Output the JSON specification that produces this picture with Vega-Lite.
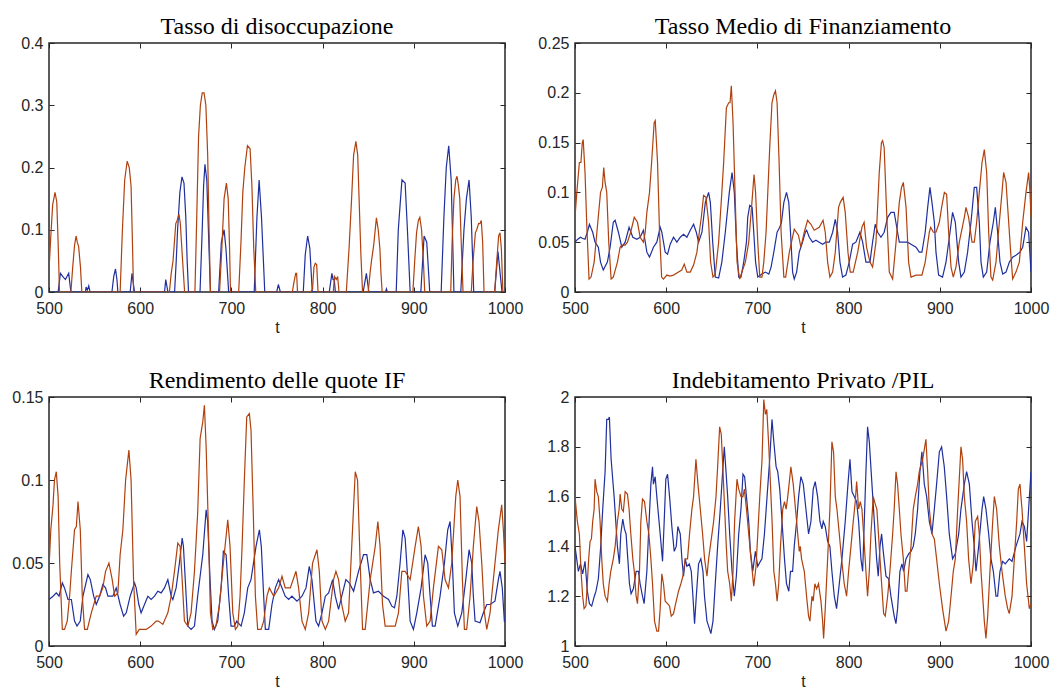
{
"$schema":"https://vega.github.io/schema/vega-lite/v6.json",
"padding":{"left":11,"top":14,"right":0,"bottom":0},
"background":"white",
"columns":2,
"spacing":{"row":32,"column":13},
"config":{
 "view":{"stroke":"#262626","strokeWidth":1.5},
 "axis":{"domain":false,"grid":false,"ticks":true,"tickSize":-5,"tickColor":"#262626","tickWidth":1,"labelFont":"Liberation Sans","labelFontSize":16,"labelColor":"#262626","labelFlush":false,"labelOverlap":false,"labelBound":false,"titleFont":"Liberation Sans","titleFontSize":16,"titleFontWeight":"normal","titleColor":"#262626","titlePadding":3},
 "axisX":{"labelPadding":13,"format":"d"},
 "axisY":{"labelPadding":11},
 "title":{"font":"Liberation Serif","fontSize":24,"fontWeight":"normal","color":"#000000","offset":-4}
},
"datasets":{
"tl":[
{"s":"A","t":500,"v":0},{"s":"A","t":510,"v":0},{"s":"A","t":512.5,"v":0.03},{"s":"A","t":515,"v":0.025},{"s":"A","t":518,"v":0.02},{"s":"A","t":521.6,"v":0.03},{"s":"A","t":524,"v":0},{"s":"A","t":540,"v":0},{"s":"A","t":540.6,"v":0.008},{"s":"A","t":542,"v":0.003},{"s":"A","t":543.6,"v":0.01},{"s":"A","t":545,"v":0},{"s":"A","t":569,"v":0},{"s":"A","t":571,"v":0.025},{"s":"A","t":572.9,"v":0.037},{"s":"A","t":574.5,"v":0.02},{"s":"A","t":575.5,"v":0},{"s":"A","t":589,"v":0},{"s":"A","t":591,"v":0.03},{"s":"A","t":593.8,"v":0},{"s":"A","t":626.7,"v":0},{"s":"A","t":628,"v":0.02},{"s":"A","t":630.4,"v":0},{"s":"A","t":637.7,"v":0},{"s":"A","t":639.5,"v":0.05},{"s":"A","t":641,"v":0.1},{"s":"A","t":643.5,"v":0.16},{"s":"A","t":645.8,"v":0.185},{"s":"A","t":648,"v":0.175},{"s":"A","t":650,"v":0.12},{"s":"A","t":651.5,"v":0.05},{"s":"A","t":653,"v":0},{"s":"A","t":665.6,"v":0},{"s":"A","t":668,"v":0.1},{"s":"A","t":669.5,"v":0.17},{"s":"A","t":671,"v":0.205},{"s":"A","t":673,"v":0.18},{"s":"A","t":675,"v":0.09},{"s":"A","t":677,"v":0},{"s":"A","t":686,"v":0},{"s":"A","t":689,"v":0.08},{"s":"A","t":692,"v":0.1},{"s":"A","t":694,"v":0.07},{"s":"A","t":697,"v":0},{"s":"A","t":725,"v":0},{"s":"A","t":728,"v":0.12},{"s":"A","t":730.4,"v":0.18},{"s":"A","t":733,"v":0.12},{"s":"A","t":736.6,"v":0},{"s":"A","t":749.6,"v":0},{"s":"A","t":751.5,"v":0.012},{"s":"A","t":753.7,"v":0},{"s":"A","t":778.8,"v":0},{"s":"A","t":781,"v":0.06},{"s":"A","t":783.6,"v":0.09},{"s":"A","t":786,"v":0.07},{"s":"A","t":788.7,"v":0},{"s":"A","t":807.3,"v":0},{"s":"A","t":810.2,"v":0.03},{"s":"A","t":811.5,"v":0.02},{"s":"A","t":812.8,"v":0.02},{"s":"A","t":814,"v":0},{"s":"A","t":844.5,"v":0},{"s":"A","t":848,"v":0.03},{"s":"A","t":850.7,"v":0},{"s":"A","t":869,"v":0},{"s":"A","t":870,"v":0.005},{"s":"A","t":871,"v":0},{"s":"A","t":880.7,"v":0},{"s":"A","t":883,"v":0.1},{"s":"A","t":887,"v":0.18},{"s":"A","t":890.5,"v":0.175},{"s":"A","t":893,"v":0.1},{"s":"A","t":896,"v":0},{"s":"A","t":907.7,"v":0},{"s":"A","t":911.3,"v":0.09},{"s":"A","t":914.2,"v":0.08},{"s":"A","t":917.5,"v":0},{"s":"A","t":930,"v":0},{"s":"A","t":933,"v":0.12},{"s":"A","t":935.6,"v":0.2},{"s":"A","t":938.3,"v":0.235},{"s":"A","t":941,"v":0.18},{"s":"A","t":944,"v":0},{"s":"A","t":951.5,"v":0},{"s":"A","t":955,"v":0.1},{"s":"A","t":957.7,"v":0.15},{"s":"A","t":960.6,"v":0.18},{"s":"A","t":963,"v":0.12},{"s":"A","t":965.7,"v":0},{"s":"A","t":988.7,"v":0},{"s":"A","t":992.3,"v":0.065},{"s":"A","t":996.7,"v":0},{"s":"A","t":1000,"v":0},
{"s":"B","t":500,"v":0.035},{"s":"B","t":502,"v":0.09},{"s":"B","t":504,"v":0.14},{"s":"B","t":506.6,"v":0.16},{"s":"B","t":508.5,"v":0.145},{"s":"B","t":510,"v":0.08},{"s":"B","t":511.5,"v":0},{"s":"B","t":524,"v":0},{"s":"B","t":526,"v":0.04},{"s":"B","t":528,"v":0.075},{"s":"B","t":529.7,"v":0.09},{"s":"B","t":531,"v":0.08},{"s":"B","t":532.5,"v":0.073},{"s":"B","t":534.5,"v":0.04},{"s":"B","t":536,"v":0},{"s":"B","t":578,"v":0},{"s":"B","t":580.5,"v":0.1},{"s":"B","t":583,"v":0.18},{"s":"B","t":585.7,"v":0.21},{"s":"B","t":588,"v":0.2},{"s":"B","t":590,"v":0.17},{"s":"B","t":591.5,"v":0.08},{"s":"B","t":592.7,"v":0},{"s":"B","t":632,"v":0},{"s":"B","t":634,"v":0.03},{"s":"B","t":636,"v":0.05},{"s":"B","t":639,"v":0.11},{"s":"B","t":640.5,"v":0.115},{"s":"B","t":642.5,"v":0.125},{"s":"B","t":644,"v":0.11},{"s":"B","t":646.5,"v":0.05},{"s":"B","t":648.7,"v":0},{"s":"B","t":660,"v":0},{"s":"B","t":662,"v":0.12},{"s":"B","t":664,"v":0.25},{"s":"B","t":666,"v":0.3},{"s":"B","t":668,"v":0.32},{"s":"B","t":670,"v":0.32},{"s":"B","t":672,"v":0.3},{"s":"B","t":674,"v":0.22},{"s":"B","t":675.5,"v":0.1},{"s":"B","t":677,"v":0},{"s":"B","t":687,"v":0},{"s":"B","t":689.5,"v":0.07},{"s":"B","t":692,"v":0.15},{"s":"B","t":694.5,"v":0.175},{"s":"B","t":696.5,"v":0.15},{"s":"B","t":698,"v":0.07},{"s":"B","t":699,"v":0},{"s":"B","t":708,"v":0},{"s":"B","t":710.5,"v":0.08},{"s":"B","t":712.5,"v":0.16},{"s":"B","t":714.7,"v":0.2},{"s":"B","t":717.6,"v":0.235},{"s":"B","t":720.5,"v":0.23},{"s":"B","t":722.5,"v":0.17},{"s":"B","t":724.5,"v":0.07},{"s":"B","t":726.7,"v":0},{"s":"B","t":766.8,"v":0},{"s":"B","t":768.5,"v":0.015},{"s":"B","t":770.5,"v":0.03},{"s":"B","t":771.5,"v":0.03},{"s":"B","t":772.5,"v":0},{"s":"B","t":787,"v":0},{"s":"B","t":789,"v":0.005},{"s":"B","t":790.5,"v":0.04},{"s":"B","t":792,"v":0.046},{"s":"B","t":793.5,"v":0.044},{"s":"B","t":795,"v":0},{"s":"B","t":811.7,"v":0},{"s":"B","t":813,"v":0.025},{"s":"B","t":815,"v":0.02},{"s":"B","t":816.5,"v":0.025},{"s":"B","t":818,"v":0},{"s":"B","t":826,"v":0},{"s":"B","t":829,"v":0.07},{"s":"B","t":831.8,"v":0.15},{"s":"B","t":834,"v":0.22},{"s":"B","t":836.5,"v":0.242},{"s":"B","t":838.5,"v":0.22},{"s":"B","t":840,"v":0.15},{"s":"B","t":842,"v":0.06},{"s":"B","t":843.8,"v":0},{"s":"B","t":850,"v":0},{"s":"B","t":852,"v":0.03},{"s":"B","t":853.6,"v":0.05},{"s":"B","t":856,"v":0.075},{"s":"B","t":859,"v":0.119},{"s":"B","t":861,"v":0.1},{"s":"B","t":862.8,"v":0.07},{"s":"B","t":864,"v":0.03},{"s":"B","t":865.3,"v":0},{"s":"B","t":899,"v":0},{"s":"B","t":901,"v":0.05},{"s":"B","t":903,"v":0.095},{"s":"B","t":905,"v":0.115},{"s":"B","t":906.6,"v":0.12},{"s":"B","t":908.5,"v":0.1},{"s":"B","t":910.5,"v":0.05},{"s":"B","t":912,"v":0},{"s":"B","t":940.5,"v":0},{"s":"B","t":942,"v":0.08},{"s":"B","t":944,"v":0.15},{"s":"B","t":946,"v":0.18},{"s":"B","t":947.4,"v":0.186},{"s":"B","t":949,"v":0.17},{"s":"B","t":950.4,"v":0.15},{"s":"B","t":952,"v":0.08},{"s":"B","t":954,"v":0},{"s":"B","t":963,"v":0},{"s":"B","t":965,"v":0.05},{"s":"B","t":967.5,"v":0.095},{"s":"B","t":969,"v":0.1},{"s":"B","t":971,"v":0.11},{"s":"B","t":972.5,"v":0.11},{"s":"B","t":974,"v":0.115},{"s":"B","t":975.5,"v":0.08},{"s":"B","t":977,"v":0},{"s":"B","t":988.7,"v":0},{"s":"B","t":991,"v":0.05},{"s":"B","t":993,"v":0.09},{"s":"B","t":994.5,"v":0.095},{"s":"B","t":996,"v":0.07},{"s":"B","t":997.7,"v":0},{"s":"B","t":1000,"v":0}
],
"tr":[
{"s":"A","t":500,"v":0.05},{"s":"A","t":503,"v":0.053},{"s":"A","t":506,"v":0.055},{"s":"A","t":508,"v":0.054},{"s":"A","t":511,"v":0.053},{"s":"A","t":513.5,"v":0.06},{"s":"A","t":515.8,"v":0.068},{"s":"A","t":519.4,"v":0.06},{"s":"A","t":522,"v":0.05},{"s":"A","t":525.6,"v":0.045},{"s":"A","t":528,"v":0.03},{"s":"A","t":531,"v":0.022},{"s":"A","t":535.5,"v":0.03},{"s":"A","t":538.5,"v":0.045},{"s":"A","t":542,"v":0.07},{"s":"A","t":544,"v":0.072},{"s":"A","t":547.6,"v":0.06},{"s":"A","t":551.3,"v":0.045},{"s":"A","t":555,"v":0.05},{"s":"A","t":559.3,"v":0.065},{"s":"A","t":563.4,"v":0.055},{"s":"A","t":567.8,"v":0.053},{"s":"A","t":571.4,"v":0.055},{"s":"A","t":575,"v":0.062},{"s":"A","t":578.8,"v":0.04},{"s":"A","t":581.7,"v":0.035},{"s":"A","t":586,"v":0.045},{"s":"A","t":589.7,"v":0.05},{"s":"A","t":593.4,"v":0.065},{"s":"A","t":595.2,"v":0.06},{"s":"A","t":598.9,"v":0.04},{"s":"A","t":601.5,"v":0.038},{"s":"A","t":604.4,"v":0.048},{"s":"A","t":608,"v":0.055},{"s":"A","t":611.7,"v":0.05},{"s":"A","t":615.4,"v":0.055},{"s":"A","t":619,"v":0.058},{"s":"A","t":622.7,"v":0.055},{"s":"A","t":626.4,"v":0.062},{"s":"A","t":630,"v":0.068},{"s":"A","t":633,"v":0.06},{"s":"A","t":635.5,"v":0.05},{"s":"A","t":639.2,"v":0.06},{"s":"A","t":642.9,"v":0.09},{"s":"A","t":646.5,"v":0.1},{"s":"A","t":648.4,"v":0.09},{"s":"A","t":651,"v":0.05},{"s":"A","t":653.8,"v":0.015},{"s":"A","t":657.5,"v":0.014},{"s":"A","t":661,"v":0.03},{"s":"A","t":664.8,"v":0.06},{"s":"A","t":669.2,"v":0.1},{"s":"A","t":672.2,"v":0.12},{"s":"A","t":674.7,"v":0.1},{"s":"A","t":677,"v":0.05},{"s":"A","t":679.5,"v":0.015},{"s":"A","t":682,"v":0.015},{"s":"A","t":685,"v":0.03},{"s":"A","t":688,"v":0.05},{"s":"A","t":689.4,"v":0.075},{"s":"A","t":691.6,"v":0.087},{"s":"A","t":694.2,"v":0.085},{"s":"A","t":696,"v":0.06},{"s":"A","t":698,"v":0.03},{"s":"A","t":700.4,"v":0.015},{"s":"A","t":705,"v":0.018},{"s":"A","t":708.8,"v":0.02},{"s":"A","t":712.5,"v":0.018},{"s":"A","t":715,"v":0.025},{"s":"A","t":718,"v":0.04},{"s":"A","t":721.6,"v":0.06},{"s":"A","t":724.5,"v":0.065},{"s":"A","t":726.4,"v":0.07},{"s":"A","t":729,"v":0.09},{"s":"A","t":731.9,"v":0.1},{"s":"A","t":734.4,"v":0.09},{"s":"A","t":736.3,"v":0.06},{"s":"A","t":738.6,"v":0.02},{"s":"A","t":740.4,"v":0.013},{"s":"A","t":743,"v":0.02},{"s":"A","t":745.9,"v":0.04},{"s":"A","t":749.5,"v":0.05},{"s":"A","t":752.5,"v":0.06},{"s":"A","t":754,"v":0.062},{"s":"A","t":756.9,"v":0.055},{"s":"A","t":760.5,"v":0.05},{"s":"A","t":764.2,"v":0.052},{"s":"A","t":767.8,"v":0.05},{"s":"A","t":771.5,"v":0.048},{"s":"A","t":775,"v":0.05},{"s":"A","t":778.8,"v":0.05},{"s":"A","t":782.5,"v":0.06},{"s":"A","t":785.4,"v":0.073},{"s":"A","t":788,"v":0.06},{"s":"A","t":790.5,"v":0.03},{"s":"A","t":793.4,"v":0.015},{"s":"A","t":797,"v":0.017},{"s":"A","t":800.7,"v":0.03},{"s":"A","t":804.4,"v":0.048},{"s":"A","t":808,"v":0.05},{"s":"A","t":812.4,"v":0.06},{"s":"A","t":815.4,"v":0.05},{"s":"A","t":819,"v":0.03},{"s":"A","t":823.4,"v":0.03},{"s":"A","t":826.3,"v":0.05},{"s":"A","t":829.2,"v":0.068},{"s":"A","t":831.8,"v":0.06},{"s":"A","t":835.5,"v":0.055},{"s":"A","t":839,"v":0.06},{"s":"A","t":842.8,"v":0.075},{"s":"A","t":846.4,"v":0.08},{"s":"A","t":850,"v":0.08},{"s":"A","t":853.7,"v":0.06},{"s":"A","t":855.6,"v":0.05},{"s":"A","t":861,"v":0.05},{"s":"A","t":864.7,"v":0.05},{"s":"A","t":868.4,"v":0.048},{"s":"A","t":873.9,"v":0.045},{"s":"A","t":877.5,"v":0.04},{"s":"A","t":880.4,"v":0.04},{"s":"A","t":884,"v":0.06},{"s":"A","t":886.7,"v":0.085},{"s":"A","t":889.2,"v":0.105},{"s":"A","t":891.4,"v":0.09},{"s":"A","t":894,"v":0.07},{"s":"A","t":895.8,"v":0.04},{"s":"A","t":898.7,"v":0.017},{"s":"A","t":903,"v":0.015},{"s":"A","t":906.8,"v":0.03},{"s":"A","t":911.2,"v":0.06},{"s":"A","t":914,"v":0.08},{"s":"A","t":917,"v":0.07},{"s":"A","t":920.7,"v":0.03},{"s":"A","t":923.2,"v":0.015},{"s":"A","t":926.9,"v":0.02},{"s":"A","t":930.5,"v":0.04},{"s":"A","t":934.2,"v":0.07},{"s":"A","t":937.8,"v":0.105},{"s":"A","t":940.4,"v":0.105},{"s":"A","t":943.3,"v":0.07},{"s":"A","t":945.2,"v":0.03},{"s":"A","t":947.7,"v":0.015},{"s":"A","t":951.4,"v":0.02},{"s":"A","t":955,"v":0.05},{"s":"A","t":958.7,"v":0.07},{"s":"A","t":960.9,"v":0.085},{"s":"A","t":963.4,"v":0.06},{"s":"A","t":966,"v":0.03},{"s":"A","t":969,"v":0.018},{"s":"A","t":972.6,"v":0.02},{"s":"A","t":976.3,"v":0.03},{"s":"A","t":979.9,"v":0.035},{"s":"A","t":983.5,"v":0.037},{"s":"A","t":987.9,"v":0.04},{"s":"A","t":990.9,"v":0.045},{"s":"A","t":994.5,"v":0.065},{"s":"A","t":997.4,"v":0.06},{"s":"A","t":1000,"v":0.02},
{"s":"B","t":500,"v":0.075},{"s":"B","t":502,"v":0.1},{"s":"B","t":504.8,"v":0.13},{"s":"B","t":506.5,"v":0.13},{"s":"B","t":508,"v":0.15},{"s":"B","t":509,"v":0.153},{"s":"B","t":511,"v":0.12},{"s":"B","t":512.8,"v":0.07},{"s":"B","t":515.4,"v":0.013},{"s":"B","t":517.6,"v":0.015},{"s":"B","t":521,"v":0.03},{"s":"B","t":523,"v":0.05},{"s":"B","t":525,"v":0.07},{"s":"B","t":528,"v":0.1},{"s":"B","t":530,"v":0.105},{"s":"B","t":531.5,"v":0.125},{"s":"B","t":533,"v":0.11},{"s":"B","t":534.8,"v":0.1},{"s":"B","t":537,"v":0.05},{"s":"B","t":539.6,"v":0.013},{"s":"B","t":542,"v":0.015},{"s":"B","t":546.5,"v":0.03},{"s":"B","t":549.5,"v":0.045},{"s":"B","t":552,"v":0.047},{"s":"B","t":555,"v":0.047},{"s":"B","t":557.5,"v":0.05},{"s":"B","t":561,"v":0.06},{"s":"B","t":565,"v":0.075},{"s":"B","t":568.5,"v":0.07},{"s":"B","t":571.4,"v":0.055},{"s":"B","t":575,"v":0.05},{"s":"B","t":577,"v":0.06},{"s":"B","t":578.8,"v":0.08},{"s":"B","t":581.7,"v":0.1},{"s":"B","t":584,"v":0.13},{"s":"B","t":586.8,"v":0.17},{"s":"B","t":588,"v":0.172},{"s":"B","t":590.5,"v":0.13},{"s":"B","t":592.7,"v":0.06},{"s":"B","t":595,"v":0.015},{"s":"B","t":597,"v":0.013},{"s":"B","t":600.7,"v":0.017},{"s":"B","t":604,"v":0.016},{"s":"B","t":608,"v":0.017},{"s":"B","t":613.5,"v":0.02},{"s":"B","t":617,"v":0.022},{"s":"B","t":619.8,"v":0.028},{"s":"B","t":622.7,"v":0.02},{"s":"B","t":626.4,"v":0.02},{"s":"B","t":630,"v":0.027},{"s":"B","t":633.7,"v":0.04},{"s":"B","t":636.3,"v":0.06},{"s":"B","t":638.5,"v":0.075},{"s":"B","t":641,"v":0.097},{"s":"B","t":643.6,"v":0.095},{"s":"B","t":646.5,"v":0.07},{"s":"B","t":648.7,"v":0.03},{"s":"B","t":651.3,"v":0.015},{"s":"B","t":653.8,"v":0.018},{"s":"B","t":657.5,"v":0.05},{"s":"B","t":661,"v":0.1},{"s":"B","t":663,"v":0.13},{"s":"B","t":666,"v":0.185},{"s":"B","t":668.5,"v":0.19},{"s":"B","t":670,"v":0.19},{"s":"B","t":671.4,"v":0.207},{"s":"B","t":673.3,"v":0.17},{"s":"B","t":675.8,"v":0.09},{"s":"B","t":677.7,"v":0.03},{"s":"B","t":680.6,"v":0.013},{"s":"B","t":683,"v":0.02},{"s":"B","t":686.8,"v":0.03},{"s":"B","t":690.5,"v":0.05},{"s":"B","t":694,"v":0.09},{"s":"B","t":696.3,"v":0.118},{"s":"B","t":698,"v":0.1},{"s":"B","t":700.4,"v":0.05},{"s":"B","t":702.6,"v":0.015},{"s":"B","t":705,"v":0.015},{"s":"B","t":707,"v":0.03},{"s":"B","t":709.5,"v":0.06},{"s":"B","t":711.4,"v":0.1},{"s":"B","t":713.5,"v":0.145},{"s":"B","t":716,"v":0.19},{"s":"B","t":718,"v":0.198},{"s":"B","t":719.8,"v":0.202},{"s":"B","t":721.6,"v":0.19},{"s":"B","t":723.8,"v":0.13},{"s":"B","t":726,"v":0.06},{"s":"B","t":729,"v":0.015},{"s":"B","t":731,"v":0.015},{"s":"B","t":735,"v":0.04},{"s":"B","t":740.4,"v":0.063},{"s":"B","t":745,"v":0.057},{"s":"B","t":747.7,"v":0.045},{"s":"B","t":751.4,"v":0.06},{"s":"B","t":755,"v":0.072},{"s":"B","t":758.7,"v":0.068},{"s":"B","t":762.3,"v":0.062},{"s":"B","t":767.8,"v":0.065},{"s":"B","t":772,"v":0.072},{"s":"B","t":774.4,"v":0.06},{"s":"B","t":777,"v":0.03},{"s":"B","t":779.5,"v":0.015},{"s":"B","t":782.5,"v":0.02},{"s":"B","t":785.4,"v":0.04},{"s":"B","t":789,"v":0.085},{"s":"B","t":790.9,"v":0.09},{"s":"B","t":794,"v":0.095},{"s":"B","t":796.3,"v":0.08},{"s":"B","t":799.3,"v":0.04},{"s":"B","t":801.8,"v":0.02},{"s":"B","t":805,"v":0.02},{"s":"B","t":810,"v":0.04},{"s":"B","t":814.6,"v":0.065},{"s":"B","t":817,"v":0.07},{"s":"B","t":819.7,"v":0.045},{"s":"B","t":823.4,"v":0.03},{"s":"B","t":826.3,"v":0.025},{"s":"B","t":830,"v":0.05},{"s":"B","t":833.6,"v":0.12},{"s":"B","t":836,"v":0.15},{"s":"B","t":837.3,"v":0.152},{"s":"B","t":839,"v":0.145},{"s":"B","t":841.7,"v":0.08},{"s":"B","t":844.6,"v":0.02},{"s":"B","t":848.3,"v":0.013},{"s":"B","t":852,"v":0.05},{"s":"B","t":855.6,"v":0.09},{"s":"B","t":858,"v":0.105},{"s":"B","t":860,"v":0.11},{"s":"B","t":863,"v":0.085},{"s":"B","t":865.8,"v":0.03},{"s":"B","t":868.4,"v":0.015},{"s":"B","t":873.9,"v":0.017},{"s":"B","t":880.4,"v":0.017},{"s":"B","t":884,"v":0.03},{"s":"B","t":888.5,"v":0.06},{"s":"B","t":890,"v":0.065},{"s":"B","t":892.9,"v":0.06},{"s":"B","t":895.8,"v":0.06},{"s":"B","t":899.5,"v":0.07},{"s":"B","t":902,"v":0.085},{"s":"B","t":905,"v":0.1},{"s":"B","t":907.5,"v":0.098},{"s":"B","t":909.7,"v":0.06},{"s":"B","t":912.3,"v":0.025},{"s":"B","t":914.8,"v":0.015},{"s":"B","t":917.7,"v":0.025},{"s":"B","t":921.4,"v":0.05},{"s":"B","t":926.9,"v":0.075},{"s":"B","t":928.7,"v":0.085},{"s":"B","t":931.6,"v":0.075},{"s":"B","t":935.3,"v":0.05},{"s":"B","t":937.8,"v":0.05},{"s":"B","t":940.4,"v":0.07},{"s":"B","t":943.3,"v":0.1},{"s":"B","t":946.3,"v":0.13},{"s":"B","t":948.8,"v":0.143},{"s":"B","t":951.4,"v":0.12},{"s":"B","t":953.6,"v":0.06},{"s":"B","t":956.1,"v":0.015},{"s":"B","t":958,"v":0.012},{"s":"B","t":961.6,"v":0.03},{"s":"B","t":965.3,"v":0.07},{"s":"B","t":968.2,"v":0.1},{"s":"B","t":970,"v":0.12},{"s":"B","t":972.6,"v":0.11},{"s":"B","t":974.8,"v":0.08},{"s":"B","t":977.7,"v":0.04},{"s":"B","t":979.9,"v":0.013},{"s":"B","t":983.5,"v":0.02},{"s":"B","t":987.2,"v":0.03},{"s":"B","t":990.9,"v":0.07},{"s":"B","t":994.5,"v":0.1},{"s":"B","t":997.4,"v":0.12},{"s":"B","t":998.9,"v":0.1},{"s":"B","t":1000,"v":0.075}
],
"bl":[
{"s":"A","t":500,"v":0.028},{"s":"A","t":504.4,"v":0.03},{"s":"A","t":508,"v":0.032},{"s":"A","t":511,"v":0.03},{"s":"A","t":514.6,"v":0.038},{"s":"A","t":517,"v":0.035},{"s":"A","t":520.8,"v":0.028},{"s":"A","t":524.5,"v":0.028},{"s":"A","t":528,"v":0.015},{"s":"A","t":530.7,"v":0.012},{"s":"A","t":534.3,"v":0.015},{"s":"A","t":537.2,"v":0.03},{"s":"A","t":542.7,"v":0.043},{"s":"A","t":545.3,"v":0.04},{"s":"A","t":549,"v":0.03},{"s":"A","t":551.8,"v":0.025},{"s":"A","t":555.5,"v":0.03},{"s":"A","t":559,"v":0.037},{"s":"A","t":562,"v":0.035},{"s":"A","t":564.6,"v":0.03},{"s":"A","t":570,"v":0.03},{"s":"A","t":573.7,"v":0.035},{"s":"A","t":578,"v":0.025},{"s":"A","t":581.8,"v":0.018},{"s":"A","t":584.7,"v":0.02},{"s":"A","t":589,"v":0.03},{"s":"A","t":593.8,"v":0.038},{"s":"A","t":595.6,"v":0.035},{"s":"A","t":598.5,"v":0.025},{"s":"A","t":601,"v":0.02},{"s":"A","t":604.7,"v":0.025},{"s":"A","t":608.4,"v":0.03},{"s":"A","t":612,"v":0.028},{"s":"A","t":615.7,"v":0.03},{"s":"A","t":619.3,"v":0.033},{"s":"A","t":623,"v":0.032},{"s":"A","t":626.6,"v":0.035},{"s":"A","t":630.3,"v":0.04},{"s":"A","t":634,"v":0.03},{"s":"A","t":635.8,"v":0.028},{"s":"A","t":639.4,"v":0.035},{"s":"A","t":643,"v":0.05},{"s":"A","t":646,"v":0.065},{"s":"A","t":647.4,"v":0.06},{"s":"A","t":650.4,"v":0.03},{"s":"A","t":652.2,"v":0.012},{"s":"A","t":655.8,"v":0.01},{"s":"A","t":659.5,"v":0.012},{"s":"A","t":663,"v":0.03},{"s":"A","t":668.6,"v":0.055},{"s":"A","t":672.3,"v":0.082},{"s":"A","t":674,"v":0.075},{"s":"A","t":676.6,"v":0.04},{"s":"A","t":678.8,"v":0.015},{"s":"A","t":681.4,"v":0.01},{"s":"A","t":685,"v":0.015},{"s":"A","t":688.7,"v":0.035},{"s":"A","t":691.2,"v":0.057},{"s":"A","t":694.2,"v":0.055},{"s":"A","t":697,"v":0.03},{"s":"A","t":699.6,"v":0.012},{"s":"A","t":703.3,"v":0.012},{"s":"A","t":705.8,"v":0.015},{"s":"A","t":710.6,"v":0.012},{"s":"A","t":714.2,"v":0.02},{"s":"A","t":717.9,"v":0.035},{"s":"A","t":721.5,"v":0.04},{"s":"A","t":727,"v":0.06},{"s":"A","t":730.7,"v":0.07},{"s":"A","t":732.8,"v":0.06},{"s":"A","t":735.4,"v":0.03},{"s":"A","t":737.2,"v":0.01},{"s":"A","t":740.9,"v":0.01},{"s":"A","t":744.5,"v":0.025},{"s":"A","t":748.2,"v":0.035},{"s":"A","t":751.8,"v":0.04},{"s":"A","t":755.5,"v":0.035},{"s":"A","t":759,"v":0.03},{"s":"A","t":762.8,"v":0.028},{"s":"A","t":766.4,"v":0.03},{"s":"A","t":771.9,"v":0.027},{"s":"A","t":777.4,"v":0.03},{"s":"A","t":781.8,"v":0.035},{"s":"A","t":785.4,"v":0.048},{"s":"A","t":788.3,"v":0.04},{"s":"A","t":792.7,"v":0.015},{"s":"A","t":795.6,"v":0.012},{"s":"A","t":799.3,"v":0.02},{"s":"A","t":803,"v":0.03},{"s":"A","t":806.6,"v":0.032},{"s":"A","t":811,"v":0.04},{"s":"A","t":813.9,"v":0.03},{"s":"A","t":817.5,"v":0.022},{"s":"A","t":821,"v":0.03},{"s":"A","t":825.5,"v":0.04},{"s":"A","t":829.2,"v":0.038},{"s":"A","t":834,"v":0.033},{"s":"A","t":839.4,"v":0.045},{"s":"A","t":844.9,"v":0.055},{"s":"A","t":848.5,"v":0.055},{"s":"A","t":852.2,"v":0.04},{"s":"A","t":855.8,"v":0.032},{"s":"A","t":861.3,"v":0.033},{"s":"A","t":866.8,"v":0.03},{"s":"A","t":872.3,"v":0.028},{"s":"A","t":875.9,"v":0.024},{"s":"A","t":878.8,"v":0.023},{"s":"A","t":881.4,"v":0.03},{"s":"A","t":885,"v":0.05},{"s":"A","t":888,"v":0.07},{"s":"A","t":890.5,"v":0.065},{"s":"A","t":893.4,"v":0.04},{"s":"A","t":896,"v":0.015},{"s":"A","t":899.6,"v":0.01},{"s":"A","t":903.3,"v":0.02},{"s":"A","t":908,"v":0.035},{"s":"A","t":912.4,"v":0.055},{"s":"A","t":915.3,"v":0.05},{"s":"A","t":917.9,"v":0.03},{"s":"A","t":920.4,"v":0.012},{"s":"A","t":923.4,"v":0.012},{"s":"A","t":928.8,"v":0.03},{"s":"A","t":933.6,"v":0.05},{"s":"A","t":937.2,"v":0.07},{"s":"A","t":939.8,"v":0.075},{"s":"A","t":942.3,"v":0.05},{"s":"A","t":944.5,"v":0.02},{"s":"A","t":948.2,"v":0.012},{"s":"A","t":952.6,"v":0.02},{"s":"A","t":957,"v":0.04},{"s":"A","t":960.6,"v":0.058},{"s":"A","t":963.5,"v":0.05},{"s":"A","t":965.3,"v":0.03},{"s":"A","t":967.2,"v":0.015},{"s":"A","t":972.6,"v":0.014},{"s":"A","t":976.3,"v":0.02},{"s":"A","t":980,"v":0.025},{"s":"A","t":983.6,"v":0.025},{"s":"A","t":989,"v":0.027},{"s":"A","t":992.7,"v":0.04},{"s":"A","t":994.5,"v":0.045},{"s":"A","t":997,"v":0.035},{"s":"A","t":999.3,"v":0.015},{"s":"A","t":1000,"v":0.015},
{"s":"B","t":500,"v":0.047},{"s":"B","t":502,"v":0.07},{"s":"B","t":504.4,"v":0.085},{"s":"B","t":506,"v":0.1},{"s":"B","t":508,"v":0.105},{"s":"B","t":510,"v":0.09},{"s":"B","t":511.7,"v":0.05},{"s":"B","t":514.6,"v":0.01},{"s":"B","t":517,"v":0.01},{"s":"B","t":520,"v":0.015},{"s":"B","t":522.6,"v":0.03},{"s":"B","t":524.5,"v":0.045},{"s":"B","t":528,"v":0.07},{"s":"B","t":530,"v":0.072},{"s":"B","t":531.8,"v":0.087},{"s":"B","t":534.3,"v":0.07},{"s":"B","t":536.5,"v":0.03},{"s":"B","t":539,"v":0.01},{"s":"B","t":542,"v":0.01},{"s":"B","t":546.4,"v":0.02},{"s":"B","t":551.8,"v":0.03},{"s":"B","t":555.5,"v":0.03},{"s":"B","t":559,"v":0.035},{"s":"B","t":562,"v":0.045},{"s":"B","t":565.7,"v":0.05},{"s":"B","t":569.3,"v":0.04},{"s":"B","t":572,"v":0.03},{"s":"B","t":575.5,"v":0.032},{"s":"B","t":578,"v":0.055},{"s":"B","t":581,"v":0.07},{"s":"B","t":584,"v":0.1},{"s":"B","t":587.6,"v":0.118},{"s":"B","t":590,"v":0.1},{"s":"B","t":592.7,"v":0.04},{"s":"B","t":595.6,"v":0.007},{"s":"B","t":599,"v":0.01},{"s":"B","t":606.6,"v":0.01},{"s":"B","t":612,"v":0.012},{"s":"B","t":617.5,"v":0.015},{"s":"B","t":620,"v":0.015},{"s":"B","t":624.8,"v":0.013},{"s":"B","t":630.3,"v":0.02},{"s":"B","t":634,"v":0.03},{"s":"B","t":637.6,"v":0.045},{"s":"B","t":641.2,"v":0.062},{"s":"B","t":643.8,"v":0.06},{"s":"B","t":646,"v":0.04},{"s":"B","t":648.5,"v":0.015},{"s":"B","t":652.2,"v":0.012},{"s":"B","t":655.8,"v":0.02},{"s":"B","t":659.5,"v":0.045},{"s":"B","t":663,"v":0.08},{"s":"B","t":665.7,"v":0.125},{"s":"B","t":668.6,"v":0.135},{"s":"B","t":670.4,"v":0.145},{"s":"B","t":672.3,"v":0.12},{"s":"B","t":674.8,"v":0.07},{"s":"B","t":677,"v":0.02},{"s":"B","t":679.6,"v":0.01},{"s":"B","t":683,"v":0.012},{"s":"B","t":686.9,"v":0.025},{"s":"B","t":691.2,"v":0.05},{"s":"B","t":696,"v":0.076},{"s":"B","t":698.5,"v":0.06},{"s":"B","t":701.5,"v":0.02},{"s":"B","t":704.4,"v":0.01},{"s":"B","t":707,"v":0.012},{"s":"B","t":709.5,"v":0.03},{"s":"B","t":711.7,"v":0.06},{"s":"B","t":714.2,"v":0.1},{"s":"B","t":716.8,"v":0.138},{"s":"B","t":719.7,"v":0.14},{"s":"B","t":721.5,"v":0.13},{"s":"B","t":724,"v":0.08},{"s":"B","t":726.3,"v":0.03},{"s":"B","t":728.8,"v":0.01},{"s":"B","t":732.5,"v":0.01},{"s":"B","t":735.4,"v":0.015},{"s":"B","t":739,"v":0.03},{"s":"B","t":741.6,"v":0.035},{"s":"B","t":746.4,"v":0.03},{"s":"B","t":751.8,"v":0.035},{"s":"B","t":755.5,"v":0.042},{"s":"B","t":759,"v":0.035},{"s":"B","t":764.6,"v":0.035},{"s":"B","t":770.8,"v":0.045},{"s":"B","t":773.7,"v":0.035},{"s":"B","t":777.4,"v":0.015},{"s":"B","t":781,"v":0.01},{"s":"B","t":784.7,"v":0.02},{"s":"B","t":789,"v":0.05},{"s":"B","t":792,"v":0.055},{"s":"B","t":793.8,"v":0.058},{"s":"B","t":796.4,"v":0.045},{"s":"B","t":799.3,"v":0.015},{"s":"B","t":803,"v":0.01},{"s":"B","t":806.6,"v":0.015},{"s":"B","t":812,"v":0.04},{"s":"B","t":814.6,"v":0.045},{"s":"B","t":817.5,"v":0.04},{"s":"B","t":821,"v":0.025},{"s":"B","t":824.8,"v":0.015},{"s":"B","t":828.5,"v":0.02},{"s":"B","t":832.8,"v":0.07},{"s":"B","t":835.8,"v":0.105},{"s":"B","t":838.3,"v":0.1},{"s":"B","t":841.2,"v":0.05},{"s":"B","t":843.8,"v":0.01},{"s":"B","t":846.7,"v":0.01},{"s":"B","t":852.2,"v":0.04},{"s":"B","t":857.7,"v":0.06},{"s":"B","t":860.6,"v":0.075},{"s":"B","t":863,"v":0.06},{"s":"B","t":865.7,"v":0.025},{"s":"B","t":868.6,"v":0.012},{"s":"B","t":875.9,"v":0.012},{"s":"B","t":879.6,"v":0.012},{"s":"B","t":883.2,"v":0.02},{"s":"B","t":886.9,"v":0.045},{"s":"B","t":890.5,"v":0.045},{"s":"B","t":896,"v":0.04},{"s":"B","t":901.5,"v":0.06},{"s":"B","t":905,"v":0.072},{"s":"B","t":908,"v":0.06},{"s":"B","t":910.6,"v":0.03},{"s":"B","t":914.2,"v":0.012},{"s":"B","t":917.9,"v":0.015},{"s":"B","t":921.5,"v":0.035},{"s":"B","t":927,"v":0.06},{"s":"B","t":930.7,"v":0.058},{"s":"B","t":934.3,"v":0.04},{"s":"B","t":938,"v":0.035},{"s":"B","t":941.6,"v":0.05},{"s":"B","t":946,"v":0.09},{"s":"B","t":948.2,"v":0.1},{"s":"B","t":950.7,"v":0.09},{"s":"B","t":953.3,"v":0.04},{"s":"B","t":955.5,"v":0.01},{"s":"B","t":958,"v":0.01},{"s":"B","t":961.7,"v":0.03},{"s":"B","t":965.3,"v":0.06},{"s":"B","t":969,"v":0.084},{"s":"B","t":971.5,"v":0.075},{"s":"B","t":974.5,"v":0.05},{"s":"B","t":977.4,"v":0.02},{"s":"B","t":980,"v":0.01},{"s":"B","t":983.6,"v":0.02},{"s":"B","t":987.2,"v":0.04},{"s":"B","t":992.7,"v":0.07},{"s":"B","t":996.4,"v":0.085},{"s":"B","t":998.2,"v":0.07},{"s":"B","t":1000,"v":0.05}
],
"br":[
{"s":"A","t":500,"v":1.4},{"s":"A","t":503.7,"v":1.3},{"s":"A","t":506,"v":1.33},{"s":"A","t":508.4,"v":1.29},{"s":"A","t":511,"v":1.34},{"s":"A","t":513.5,"v":1.22},{"s":"A","t":515.8,"v":1.17},{"s":"A","t":518.3,"v":1.16},{"s":"A","t":521.2,"v":1.2},{"s":"A","t":523,"v":1.22},{"s":"A","t":525.6,"v":1.27},{"s":"A","t":528.2,"v":1.4},{"s":"A","t":530.4,"v":1.55},{"s":"A","t":533,"v":1.7},{"s":"A","t":534.8,"v":1.91},{"s":"A","t":536.6,"v":1.91},{"s":"A","t":537.7,"v":1.92},{"s":"A","t":539.6,"v":1.75},{"s":"A","t":542.9,"v":1.6},{"s":"A","t":546.5,"v":1.4},{"s":"A","t":548.7,"v":1.33},{"s":"A","t":550.2,"v":1.45},{"s":"A","t":552.4,"v":1.51},{"s":"A","t":554.2,"v":1.47},{"s":"A","t":556,"v":1.45},{"s":"A","t":557.9,"v":1.35},{"s":"A","t":559.7,"v":1.25},{"s":"A","t":561.5,"v":1.21},{"s":"A","t":564,"v":1.23},{"s":"A","t":567,"v":1.3},{"s":"A","t":569.6,"v":1.3},{"s":"A","t":571.4,"v":1.25},{"s":"A","t":574,"v":1.2},{"s":"A","t":575.8,"v":1.17},{"s":"A","t":578.8,"v":1.3},{"s":"A","t":580.6,"v":1.45},{"s":"A","t":583.2,"v":1.65},{"s":"A","t":585,"v":1.72},{"s":"A","t":586,"v":1.65},{"s":"A","t":587.9,"v":1.68},{"s":"A","t":589.7,"v":1.6},{"s":"A","t":593.4,"v":1.45},{"s":"A","t":596,"v":1.34},{"s":"A","t":597.8,"v":1.5},{"s":"A","t":599.6,"v":1.67},{"s":"A","t":601.5,"v":1.69},{"s":"A","t":603.7,"v":1.6},{"s":"A","t":606.2,"v":1.48},{"s":"A","t":608.8,"v":1.38},{"s":"A","t":611,"v":1.4},{"s":"A","t":612.8,"v":1.48},{"s":"A","t":615.4,"v":1.45},{"s":"A","t":617.2,"v":1.35},{"s":"A","t":619,"v":1.28},{"s":"A","t":620.9,"v":1.35},{"s":"A","t":622.7,"v":1.32},{"s":"A","t":625.3,"v":1.33},{"s":"A","t":627.5,"v":1.3},{"s":"A","t":629.3,"v":1.2},{"s":"A","t":631.1,"v":1.09},{"s":"A","t":633,"v":1.2},{"s":"A","t":635.5,"v":1.33},{"s":"A","t":638,"v":1.35},{"s":"A","t":640.3,"v":1.3},{"s":"A","t":642,"v":1.2},{"s":"A","t":644.7,"v":1.1},{"s":"A","t":646.5,"v":1.08},{"s":"A","t":649,"v":1.05},{"s":"A","t":651.3,"v":1.1},{"s":"A","t":653.8,"v":1.25},{"s":"A","t":656.4,"v":1.4},{"s":"A","t":659.3,"v":1.55},{"s":"A","t":661.9,"v":1.7},{"s":"A","t":663.7,"v":1.8},{"s":"A","t":665.6,"v":1.7},{"s":"A","t":667.4,"v":1.6},{"s":"A","t":669.6,"v":1.45},{"s":"A","t":672.2,"v":1.3},{"s":"A","t":674.7,"v":1.2},{"s":"A","t":676.9,"v":1.28},{"s":"A","t":679.5,"v":1.45},{"s":"A","t":682,"v":1.55},{"s":"A","t":684.2,"v":1.69},{"s":"A","t":686,"v":1.68},{"s":"A","t":688,"v":1.6},{"s":"A","t":690.5,"v":1.5},{"s":"A","t":692.3,"v":1.38},{"s":"A","t":694.9,"v":1.3},{"s":"A","t":697.8,"v":1.38},{"s":"A","t":700.4,"v":1.32},{"s":"A","t":703.3,"v":1.34},{"s":"A","t":705,"v":1.35},{"s":"A","t":707.7,"v":1.45},{"s":"A","t":710.6,"v":1.6},{"s":"A","t":713.5,"v":1.75},{"s":"A","t":716,"v":1.91},{"s":"A","t":718,"v":1.82},{"s":"A","t":720.5,"v":1.72},{"s":"A","t":722.3,"v":1.7},{"s":"A","t":724.5,"v":1.63},{"s":"A","t":727,"v":1.5},{"s":"A","t":729.7,"v":1.35},{"s":"A","t":731.9,"v":1.25},{"s":"A","t":734.4,"v":1.22},{"s":"A","t":736.3,"v":1.3},{"s":"A","t":738.6,"v":1.3},{"s":"A","t":740.4,"v":1.4},{"s":"A","t":743,"v":1.5},{"s":"A","t":745.2,"v":1.6},{"s":"A","t":747.7,"v":1.68},{"s":"A","t":750.3,"v":1.65},{"s":"A","t":753.2,"v":1.55},{"s":"A","t":756.1,"v":1.45},{"s":"A","t":758.7,"v":1.5},{"s":"A","t":761.2,"v":1.63},{"s":"A","t":763.4,"v":1.66},{"s":"A","t":766,"v":1.6},{"s":"A","t":768.6,"v":1.5},{"s":"A","t":770.7,"v":1.47},{"s":"A","t":772.2,"v":1.5},{"s":"A","t":774.4,"v":1.48},{"s":"A","t":777,"v":1.42},{"s":"A","t":779.5,"v":1.4},{"s":"A","t":781.7,"v":1.3},{"s":"A","t":784.3,"v":1.2},{"s":"A","t":786.8,"v":1.15},{"s":"A","t":789.8,"v":1.25},{"s":"A","t":792.7,"v":1.35},{"s":"A","t":796.3,"v":1.5},{"s":"A","t":799.3,"v":1.65},{"s":"A","t":801.5,"v":1.75},{"s":"A","t":803.7,"v":1.62},{"s":"A","t":806.2,"v":1.6},{"s":"A","t":808.8,"v":1.58},{"s":"A","t":811,"v":1.5},{"s":"A","t":813.5,"v":1.35},{"s":"A","t":815.4,"v":1.3},{"s":"A","t":817.2,"v":1.5},{"s":"A","t":819,"v":1.7},{"s":"A","t":820.8,"v":1.88},{"s":"A","t":822.7,"v":1.82},{"s":"A","t":825.6,"v":1.65},{"s":"A","t":828.2,"v":1.5},{"s":"A","t":830.7,"v":1.35},{"s":"A","t":832.5,"v":1.28},{"s":"A","t":834.4,"v":1.4},{"s":"A","t":836.2,"v":1.45},{"s":"A","t":838,"v":1.38},{"s":"A","t":841,"v":1.28},{"s":"A","t":843.9,"v":1.27},{"s":"A","t":846.4,"v":1.2},{"s":"A","t":850,"v":1.12},{"s":"A","t":851.9,"v":1.09},{"s":"A","t":853.7,"v":1.15},{"s":"A","t":856.3,"v":1.3},{"s":"A","t":858.5,"v":1.33},{"s":"A","t":860.3,"v":1.3},{"s":"A","t":862.9,"v":1.35},{"s":"A","t":865.8,"v":1.37},{"s":"A","t":868.4,"v":1.38},{"s":"A","t":870.9,"v":1.4},{"s":"A","t":873.1,"v":1.45},{"s":"A","t":875.7,"v":1.55},{"s":"A","t":878.2,"v":1.7},{"s":"A","t":880.4,"v":1.78},{"s":"A","t":883,"v":1.65},{"s":"A","t":885.6,"v":1.6},{"s":"A","t":888.5,"v":1.5},{"s":"A","t":891.4,"v":1.45},{"s":"A","t":894,"v":1.55},{"s":"A","t":896.5,"v":1.65},{"s":"A","t":899.5,"v":1.78},{"s":"A","t":902,"v":1.8},{"s":"A","t":904.9,"v":1.72},{"s":"A","t":907.5,"v":1.6},{"s":"A","t":910.4,"v":1.45},{"s":"A","t":914,"v":1.35},{"s":"A","t":917,"v":1.37},{"s":"A","t":920.7,"v":1.45},{"s":"A","t":923.2,"v":1.55},{"s":"A","t":926.9,"v":1.65},{"s":"A","t":929.4,"v":1.7},{"s":"A","t":932.4,"v":1.65},{"s":"A","t":935.3,"v":1.5},{"s":"A","t":937.8,"v":1.4},{"s":"A","t":939.7,"v":1.3},{"s":"A","t":942.6,"v":1.4},{"s":"A","t":946.3,"v":1.55},{"s":"A","t":948.1,"v":1.6},{"s":"A","t":950.6,"v":1.55},{"s":"A","t":953.6,"v":1.45},{"s":"A","t":956.1,"v":1.35},{"s":"A","t":958.7,"v":1.3},{"s":"A","t":961.6,"v":1.2},{"s":"A","t":963.4,"v":1.2},{"s":"A","t":966,"v":1.3},{"s":"A","t":968.9,"v":1.34},{"s":"A","t":971.8,"v":1.33},{"s":"A","t":976.2,"v":1.35},{"s":"A","t":979.2,"v":1.34},{"s":"A","t":983.5,"v":1.4},{"s":"A","t":987.9,"v":1.45},{"s":"A","t":990.1,"v":1.5},{"s":"A","t":992.7,"v":1.48},{"s":"A","t":995.2,"v":1.42},{"s":"A","t":997.4,"v":1.55},{"s":"A","t":1000,"v":1.7},
{"s":"B","t":500,"v":1.6},{"s":"B","t":502.6,"v":1.5},{"s":"B","t":504.8,"v":1.45},{"s":"B","t":506.6,"v":1.3},{"s":"B","t":508.4,"v":1.2},{"s":"B","t":510,"v":1.15},{"s":"B","t":512,"v":1.16},{"s":"B","t":513.5,"v":1.25},{"s":"B","t":515,"v":1.35},{"s":"B","t":516.5,"v":1.42},{"s":"B","t":518,"v":1.43},{"s":"B","t":519.4,"v":1.5},{"s":"B","t":521,"v":1.55},{"s":"B","t":522,"v":1.67},{"s":"B","t":523.8,"v":1.62},{"s":"B","t":525.6,"v":1.6},{"s":"B","t":527.5,"v":1.5},{"s":"B","t":529.3,"v":1.35},{"s":"B","t":531,"v":1.25},{"s":"B","t":533,"v":1.2},{"s":"B","t":535.5,"v":1.18},{"s":"B","t":537.4,"v":1.25},{"s":"B","t":539.2,"v":1.3},{"s":"B","t":542,"v":1.35},{"s":"B","t":544,"v":1.4},{"s":"B","t":546.5,"v":1.5},{"s":"B","t":548.4,"v":1.55},{"s":"B","t":549.5,"v":1.61},{"s":"B","t":551.3,"v":1.55},{"s":"B","t":553,"v":1.54},{"s":"B","t":555,"v":1.62},{"s":"B","t":557.5,"v":1.61},{"s":"B","t":559.3,"v":1.55},{"s":"B","t":561.2,"v":1.45},{"s":"B","t":563.4,"v":1.35},{"s":"B","t":565,"v":1.3},{"s":"B","t":567,"v":1.2},{"s":"B","t":568.5,"v":1.17},{"s":"B","t":570.7,"v":1.3},{"s":"B","t":572.2,"v":1.5},{"s":"B","t":574,"v":1.59},{"s":"B","t":576.2,"v":1.58},{"s":"B","t":578.8,"v":1.5},{"s":"B","t":581,"v":1.45},{"s":"B","t":583.2,"v":1.35},{"s":"B","t":585,"v":1.25},{"s":"B","t":587.2,"v":1.1},{"s":"B","t":589.7,"v":1.06},{"s":"B","t":591.6,"v":1.06},{"s":"B","t":593.4,"v":1.15},{"s":"B","t":595.2,"v":1.29},{"s":"B","t":597,"v":1.25},{"s":"B","t":598.9,"v":1.18},{"s":"B","t":601.5,"v":1.17},{"s":"B","t":603.7,"v":1.16},{"s":"B","t":605.5,"v":1.12},{"s":"B","t":608,"v":1.13},{"s":"B","t":611,"v":1.18},{"s":"B","t":613.5,"v":1.22},{"s":"B","t":616.1,"v":1.25},{"s":"B","t":618.3,"v":1.28},{"s":"B","t":620.9,"v":1.35},{"s":"B","t":623.4,"v":1.35},{"s":"B","t":625.6,"v":1.45},{"s":"B","t":628.2,"v":1.55},{"s":"B","t":630,"v":1.6},{"s":"B","t":632.6,"v":1.75},{"s":"B","t":634.8,"v":1.65},{"s":"B","t":637.4,"v":1.55},{"s":"B","t":639.9,"v":1.45},{"s":"B","t":642.1,"v":1.35},{"s":"B","t":644.7,"v":1.28},{"s":"B","t":646.5,"v":1.35},{"s":"B","t":650.2,"v":1.45},{"s":"B","t":652,"v":1.5},{"s":"B","t":654.6,"v":1.6},{"s":"B","t":656.4,"v":1.72},{"s":"B","t":658.6,"v":1.88},{"s":"B","t":660.4,"v":1.85},{"s":"B","t":662.3,"v":1.7},{"s":"B","t":664.1,"v":1.55},{"s":"B","t":665.9,"v":1.4},{"s":"B","t":667.4,"v":1.3},{"s":"B","t":669.6,"v":1.25},{"s":"B","t":671.4,"v":1.18},{"s":"B","t":673.3,"v":1.3},{"s":"B","t":675,"v":1.5},{"s":"B","t":677.6,"v":1.67},{"s":"B","t":679.5,"v":1.63},{"s":"B","t":682,"v":1.6},{"s":"B","t":684.2,"v":1.6},{"s":"B","t":685.7,"v":1.63},{"s":"B","t":688,"v":1.55},{"s":"B","t":690.5,"v":1.45},{"s":"B","t":693,"v":1.35},{"s":"B","t":696,"v":1.24},{"s":"B","t":698.5,"v":1.32},{"s":"B","t":700.4,"v":1.45},{"s":"B","t":702.6,"v":1.6},{"s":"B","t":705.1,"v":1.75},{"s":"B","t":707,"v":1.99},{"s":"B","t":708.8,"v":1.93},{"s":"B","t":710.3,"v":1.95},{"s":"B","t":712.5,"v":1.8},{"s":"B","t":714.3,"v":1.65},{"s":"B","t":716.1,"v":1.5},{"s":"B","t":718,"v":1.3},{"s":"B","t":719.8,"v":1.25},{"s":"B","t":721.6,"v":1.18},{"s":"B","t":723.4,"v":1.25},{"s":"B","t":725.3,"v":1.4},{"s":"B","t":727.8,"v":1.55},{"s":"B","t":729.7,"v":1.58},{"s":"B","t":731.5,"v":1.55},{"s":"B","t":733.3,"v":1.6},{"s":"B","t":735.6,"v":1.68},{"s":"B","t":736.7,"v":1.72},{"s":"B","t":739.3,"v":1.65},{"s":"B","t":743,"v":1.5},{"s":"B","t":745.9,"v":1.38},{"s":"B","t":747,"v":1.4},{"s":"B","t":748.4,"v":1.35},{"s":"B","t":751.4,"v":1.3},{"s":"B","t":753.9,"v":1.2},{"s":"B","t":756.1,"v":1.12},{"s":"B","t":757.6,"v":1.1},{"s":"B","t":759.8,"v":1.2},{"s":"B","t":761.2,"v":1.18},{"s":"B","t":763,"v":1.25},{"s":"B","t":764.9,"v":1.23},{"s":"B","t":767,"v":1.25},{"s":"B","t":769.7,"v":1.18},{"s":"B","t":771.5,"v":1.1},{"s":"B","t":772.6,"v":1.03},{"s":"B","t":774.4,"v":1.15},{"s":"B","t":777,"v":1.35},{"s":"B","t":779.5,"v":1.55},{"s":"B","t":781.7,"v":1.82},{"s":"B","t":783.5,"v":1.78},{"s":"B","t":785.4,"v":1.6},{"s":"B","t":787.2,"v":1.55},{"s":"B","t":789.8,"v":1.45},{"s":"B","t":792.3,"v":1.35},{"s":"B","t":795.2,"v":1.25},{"s":"B","t":797.8,"v":1.2},{"s":"B","t":800,"v":1.3},{"s":"B","t":802.6,"v":1.4},{"s":"B","t":805.1,"v":1.5},{"s":"B","t":807.3,"v":1.58},{"s":"B","t":808.8,"v":1.66},{"s":"B","t":811,"v":1.55},{"s":"B","t":812.8,"v":1.58},{"s":"B","t":814.6,"v":1.55},{"s":"B","t":816.5,"v":1.45},{"s":"B","t":819,"v":1.3},{"s":"B","t":820.8,"v":1.2},{"s":"B","t":822.7,"v":1.3},{"s":"B","t":824.5,"v":1.45},{"s":"B","t":827,"v":1.6},{"s":"B","t":829.2,"v":1.57},{"s":"B","t":831,"v":1.55},{"s":"B","t":833.6,"v":1.4},{"s":"B","t":836.2,"v":1.25},{"s":"B","t":838.4,"v":1.13},{"s":"B","t":840.2,"v":1.12},{"s":"B","t":842.8,"v":1.2},{"s":"B","t":845.3,"v":1.3},{"s":"B","t":848.3,"v":1.45},{"s":"B","t":850,"v":1.55},{"s":"B","t":852,"v":1.7},{"s":"B","t":853.7,"v":1.65},{"s":"B","t":855.6,"v":1.55},{"s":"B","t":857.4,"v":1.45},{"s":"B","t":860,"v":1.35},{"s":"B","t":862.2,"v":1.22},{"s":"B","t":864,"v":1.22},{"s":"B","t":865.8,"v":1.3},{"s":"B","t":868.4,"v":1.4},{"s":"B","t":870.9,"v":1.55},{"s":"B","t":873.1,"v":1.6},{"s":"B","t":875.7,"v":1.65},{"s":"B","t":877.5,"v":1.7},{"s":"B","t":881.2,"v":1.75},{"s":"B","t":884.8,"v":1.83},{"s":"B","t":886.7,"v":1.7},{"s":"B","t":888.5,"v":1.55},{"s":"B","t":891.4,"v":1.45},{"s":"B","t":894,"v":1.43},{"s":"B","t":896.5,"v":1.35},{"s":"B","t":899.5,"v":1.25},{"s":"B","t":903,"v":1.15},{"s":"B","t":906.8,"v":1.06},{"s":"B","t":909.7,"v":1.1},{"s":"B","t":912.3,"v":1.2},{"s":"B","t":914.8,"v":1.3},{"s":"B","t":917,"v":1.35},{"s":"B","t":919.6,"v":1.55},{"s":"B","t":923.2,"v":1.8},{"s":"B","t":925,"v":1.75},{"s":"B","t":926.9,"v":1.6},{"s":"B","t":929.4,"v":1.5},{"s":"B","t":931.6,"v":1.35},{"s":"B","t":934.2,"v":1.25},{"s":"B","t":936.7,"v":1.33},{"s":"B","t":938.9,"v":1.5},{"s":"B","t":941.5,"v":1.52},{"s":"B","t":943.3,"v":1.45},{"s":"B","t":945.2,"v":1.3},{"s":"B","t":947,"v":1.2},{"s":"B","t":948.8,"v":1.1},{"s":"B","t":950.6,"v":1.03},{"s":"B","t":952.5,"v":1.12},{"s":"B","t":955,"v":1.3},{"s":"B","t":958,"v":1.5},{"s":"B","t":959.8,"v":1.6},{"s":"B","t":962.3,"v":1.55},{"s":"B","t":965.3,"v":1.4},{"s":"B","t":968.2,"v":1.3},{"s":"B","t":971.8,"v":1.2},{"s":"B","t":974.4,"v":1.15},{"s":"B","t":976.2,"v":1.13},{"s":"B","t":979.2,"v":1.2},{"s":"B","t":981.7,"v":1.35},{"s":"B","t":984.3,"v":1.5},{"s":"B","t":986.1,"v":1.63},{"s":"B","t":987.9,"v":1.65},{"s":"B","t":990.1,"v":1.55},{"s":"B","t":992.7,"v":1.4},{"s":"B","t":995.2,"v":1.25},{"s":"B","t":998.2,"v":1.15},{"s":"B","t":1000,"v":1.17}
]
},
"concat":[
{"width":456,"height":249,"title":{"text":"Tasso di disoccupazione"},"data":{"name":"tl"},
 "layer":[
  {"transform":[{"filter":"datum.s=='A'"}],"mark":{"type":"line","color":"#1f2f9e","strokeWidth":1.2,"clip":true},
   "encoding":{"x":{"field":"t","type":"quantitative","scale":{"domain":[500,1000],"nice":false},"axis":{"values":[500,600,700,800,900,1000],"title":"t"}},
   "y":{"field":"v","type":"quantitative","scale":{"domain":[0,0.4],"nice":false,"zero":false},"axis":{"values":[0,0.1,0.2,0.3,0.4],"format":".2~f","title":null}}}},
  {"transform":[{"filter":"datum.s=='B'"}],"mark":{"type":"line","color":"#b0410e","strokeWidth":1.2,"clip":true},
   "encoding":{"x":{"field":"t","type":"quantitative","axis":{"orient":"top","values":[500,600,700,800,900,1000],"labels":false,"title":null}},
   "y":{"field":"v","type":"quantitative","axis":{"orient":"right","values":[0,0.1,0.2,0.3,0.4],"labels":false,"title":null}}}}
 ],
 "resolve":{"axis":{"x":"independent","y":"independent"}}},
{"width":456,"height":249,"title":{"text":"Tasso Medio di Finanziamento"},"data":{"name":"tr"},
 "layer":[
  {"transform":[{"filter":"datum.s=='A'"}],"mark":{"type":"line","color":"#1f2f9e","strokeWidth":1.2,"clip":true},
   "encoding":{"x":{"field":"t","type":"quantitative","scale":{"domain":[500,1000],"nice":false},"axis":{"values":[500,600,700,800,900,1000],"title":"t"}},
   "y":{"field":"v","type":"quantitative","scale":{"domain":[0,0.25],"nice":false,"zero":false},"axis":{"values":[0,0.05,0.1,0.15,0.2,0.25],"format":".2~f","title":null}}}},
  {"transform":[{"filter":"datum.s=='B'"}],"mark":{"type":"line","color":"#b0410e","strokeWidth":1.2,"clip":true},
   "encoding":{"x":{"field":"t","type":"quantitative","axis":{"orient":"top","values":[500,600,700,800,900,1000],"labels":false,"title":null}},
   "y":{"field":"v","type":"quantitative","axis":{"orient":"right","values":[0,0.05,0.1,0.15,0.2,0.25],"labels":false,"title":null}}}}
 ],
 "resolve":{"axis":{"x":"independent","y":"independent"}}},
{"width":456,"height":249,"title":{"text":"Rendimento delle quote IF"},"data":{"name":"bl"},
 "layer":[
  {"transform":[{"filter":"datum.s=='A'"}],"mark":{"type":"line","color":"#1f2f9e","strokeWidth":1.2,"clip":true},
   "encoding":{"x":{"field":"t","type":"quantitative","scale":{"domain":[500,1000],"nice":false},"axis":{"values":[500,600,700,800,900,1000],"title":"t"}},
   "y":{"field":"v","type":"quantitative","scale":{"domain":[0,0.15],"nice":false,"zero":false},"axis":{"values":[0,0.05,0.1,0.15],"format":".2~f","title":null}}}},
  {"transform":[{"filter":"datum.s=='B'"}],"mark":{"type":"line","color":"#b0410e","strokeWidth":1.2,"clip":true},
   "encoding":{"x":{"field":"t","type":"quantitative","axis":{"orient":"top","values":[500,600,700,800,900,1000],"labels":false,"title":null}},
   "y":{"field":"v","type":"quantitative","axis":{"orient":"right","values":[0,0.05,0.1,0.15],"labels":false,"title":null}}}}
 ],
 "resolve":{"axis":{"x":"independent","y":"independent"}}},
{"width":456,"height":249,"title":{"text":"Indebitamento Privato /PIL"},"data":{"name":"br"},
 "layer":[
  {"transform":[{"filter":"datum.s=='A'"}],"mark":{"type":"line","color":"#1f2f9e","strokeWidth":1.2,"clip":true},
   "encoding":{"x":{"field":"t","type":"quantitative","scale":{"domain":[500,1000],"nice":false},"axis":{"values":[500,600,700,800,900,1000],"title":"t"}},
   "y":{"field":"v","type":"quantitative","scale":{"domain":[1,2],"nice":false,"zero":false},"axis":{"values":[1,1.2,1.4,1.6,1.8,2],"format":".1~f","title":null}}}},
  {"transform":[{"filter":"datum.s=='B'"}],"mark":{"type":"line","color":"#b0410e","strokeWidth":1.2,"clip":true},
   "encoding":{"x":{"field":"t","type":"quantitative","axis":{"orient":"top","values":[500,600,700,800,900,1000],"labels":false,"title":null}},
   "y":{"field":"v","type":"quantitative","axis":{"orient":"right","values":[1,1.2,1.4,1.6,1.8,2],"labels":false,"title":null}}}}
 ],
 "resolve":{"axis":{"x":"independent","y":"independent"}}}
]
}
